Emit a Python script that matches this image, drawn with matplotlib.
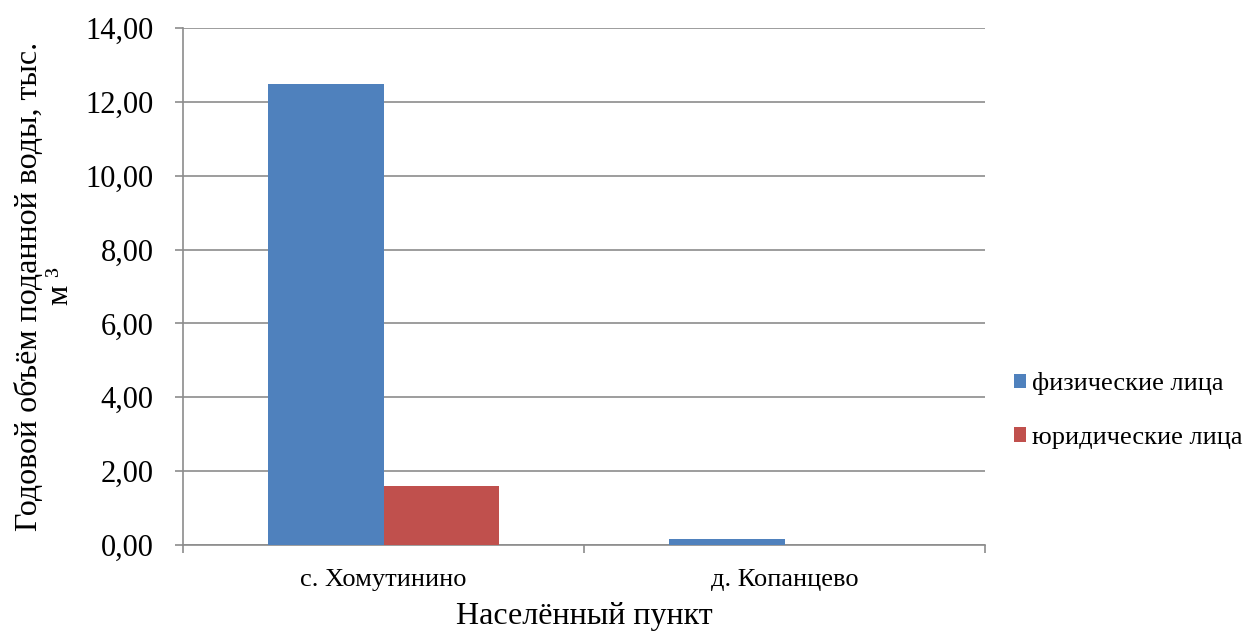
import matplotlib
matplotlib.use("Agg")
import matplotlib.pyplot as plt
import numpy as np
from matplotlib.ticker import FuncFormatter, FixedLocator

categories = ["с. Хомутинино", "д. Копанцево"]
series_names = ["физические лица", "юридические лица"]
individuals = [12.48, 0.16]
legal_entities = [1.60, 0.0]
colors = ["#4F81BD", "#C0504D"]

plt.rcParams["font.family"] = ["Liberation Serif", "DejaVu Serif"]

fig = plt.figure(figsize=(12.47, 6.34), dpi=100)
ax = fig.add_axes([183 / 1247, 1 - 545 / 634, (985 - 183) / 1247, (545 - 28) / 634])

x = np.arange(len(categories))
w = 0.287
ax.bar(x - w / 2, individuals, w, color=colors[0], label=series_names[0], zorder=3)
ax.bar(x + w / 2, legal_entities, w, color=colors[1], label=series_names[1], zorder=3)

ax.set_xlim(-0.5, len(categories) - 0.5)
ax.set_ylim(0, 14)
ax.yaxis.set_major_locator(FixedLocator(np.arange(0, 14.01, 2)))
ax.yaxis.set_major_formatter(FuncFormatter(lambda v, p: f"{v:.2f}".replace(".", ",")))
ax.grid(axis="y", color="#8C8C8C", linewidth=1.2, zorder=0)

ax.set_xticks(x)
ax.set_xticklabels(categories, fontsize=19)
ax.xaxis.set_minor_locator(FixedLocator([-0.5, 0.5, 1.5]))
ax.tick_params(axis="x", which="major", length=0, pad=17)
ax.tick_params(axis="x", which="minor", length=6, color="#8C8C8C", width=1.2)
ax.tick_params(axis="y", length=6, color="#8C8C8C", width=1.2, labelsize=22, pad=15)

for s in ["top", "right"]:
    ax.spines[s].set_visible(False)
for s in ["left", "bottom"]:
    ax.spines[s].set_color("#8C8C8C")
    ax.spines[s].set_linewidth(1.2)

ax.set_xlabel("Населённый пункт", fontsize=23, labelpad=8)
ax.set_ylabel("Годовой объём поданной воды, тыс.\nм ³", fontsize=23, linespacing=1.1)
ax.yaxis.set_label_coords(-0.135, 0.5)

ax.legend(loc="center left", bbox_to_anchor=(1.0225, 0.26), frameon=False, fontsize=19,
          handlelength=0.46, handleheight=0.46, handletextpad=0.25, labelspacing=1.2,
          borderaxespad=0)

fig.savefig("out.png", dpi=100)
